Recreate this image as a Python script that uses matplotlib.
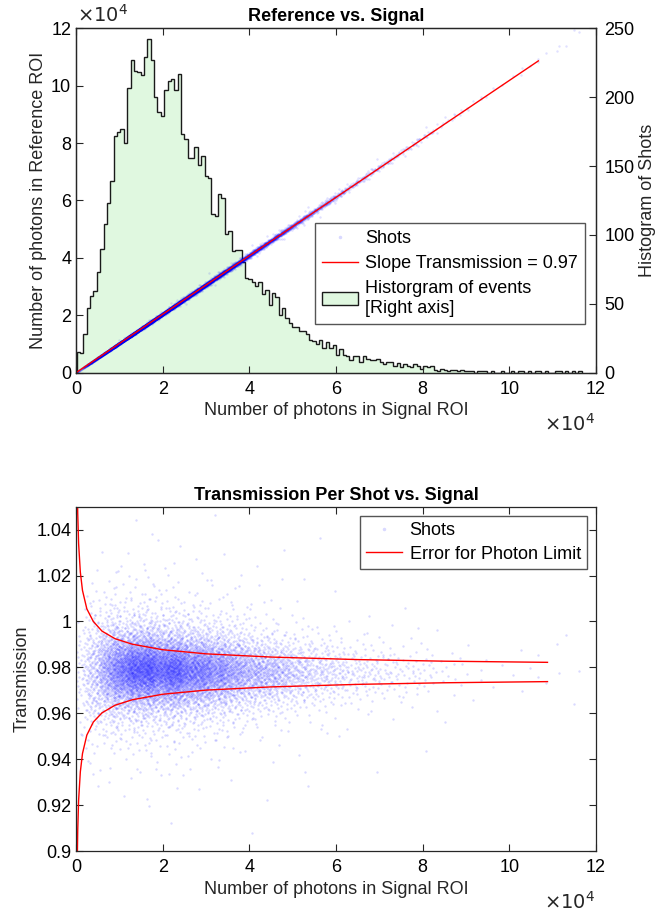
import numpy as np
import matplotlib.pyplot as plt
from matplotlib.lines import Line2D
from matplotlib.patches import Patch

plt.rcParams['font.family'] = ['Liberation Sans', 'DejaVu Sans']
plt.rcParams['font.size'] = 13

# histogram of shots vs signal (counts)
hist_first_edge = 150
hist_bin_width = 777
hist_counts = [15, 14, 28, 47, 56, 59, 73, 90, 108, 123, 139, 172, 175, 177, 167, 207, 227, 219, 218, 216,
               229, 242, 227, 200, 189, 186, 205, 212, 213,
               205, 217, 173, 170, 156, 156, 164, 151, 157, 143, 141, 115, 114, 130, 127, 101, 103, 88, 89, 89,
               80, 69, 68, 66, 63, 66, 57, 60, 49, 58, 55, 42, 47, 40, 36, 33, 33, 30,
               30, 28, 24, 23, 21, 24, 18, 22, 18, 20, 13, 17, 13, 12, 9, 12, 12, 8, 12, 10,
               9, 9, 10, 8, 6, 8, 8, 5, 7, 4, 6, 5, 4, 6, 5, 3, 5, 4, 5,
               2, 1, 3, 2, 1, 2, 2, 1, 2, 1, 1, 1, 0, 1, 1, 1, 0, 1, 0, 0,
               1, 0, 0, 1, 0, 1, 1, 0, 1, 0, 1, 1, 0, 1, 0, 0, 1, 1, 0, 1, 0, 1, 0, 1]

# transmission cloud, per signal range
spread_signal_edges = [0, 5000, 10000, 20000, 40000, 60000]
spread_center = [0.978, 0.979, 0.979, 0.9785, 0.978, 0.978]
spread_core = [0.0080, 0.0062, 0.0052, 0.0050, 0.0045, 0.0040]
spread_halo = 0.012

# fitted slope line (upper panel)
fit_signal = [0, 106700]
fit_reference = [0, 108650]

# photon limit error band (lower panel)
limit_signal = [250, 400, 600, 1000, 1500, 2500, 4000, 6000, 9000, 13000, 20000, 30000, 45000, 65000,
                85000, 108800]
limit_upper = [1.065, 1.047, 1.034, 1.0215, 1.0135, 1.0055, 1.000, 0.9958, 0.9925, 0.9901, 0.9877, 0.9859,
               0.9845, 0.9834, 0.9827, 0.9822]
limit_lower = [0.891, 0.909, 0.922, 0.9345, 0.9425, 0.9505, 0.9562, 0.9602, 0.9635, 0.9659, 0.9683, 0.9701,
               0.9715, 0.9726, 0.9733, 0.9738]

edges = hist_first_edge + hist_bin_width * np.arange(len(hist_counts) + 1)


def halton(k, base):
    f, r = 1.0, 0.0
    while k > 0:
        f /= base
        r += f * (k % base)
        k //= base
    return r


# spread the shots of each bin over the bin (Halton placement)
signal = []
trans = []
k = 0
for i, n in enumerate(hist_counts):
    r = np.searchsorted(spread_signal_edges, edges[i], side='right') - 1
    for j in range(n):
        k += 1
        u = halton(k, 3)
        v = halton(k, 2)
        s = spread_halo if halton(k, 5) > 0.92 else spread_core[r]
        signal.append(edges[i] + u * hist_bin_width)
        trans.append(spread_center[r] + s * np.log(v / (1 - v)))
signal = np.array(signal)
trans = np.array(trans)
reference = signal / trans

axis_col = '#262626'
green = '#e0f8e0'

fig = plt.figure(figsize=(6.58, 9.13), dpi=100)

# ---------- top panel ----------
ax1 = fig.add_axes([0.1155, 0.5918, 0.7903, 0.3772])
ax1r = ax1.twinx()
ax1r.stairs(hist_counts, edges, fill=True, facecolor=green, edgecolor='#1a1a1a', linewidth=1.0)
ax1.set_zorder(ax1r.get_zorder() + 1)
ax1.patch.set_visible(False)

ax1.scatter(signal, reference, s=3, c='blue', alpha=0.12, linewidths=0)
ax1.plot(fit_signal, fit_reference, color='red', lw=1)

ax1.set_xlim(0, 120000)
ax1.set_ylim(0, 120000)
ax1r.set_ylim(0, 250)
ticks = np.arange(0, 120001, 20000)
ax1.set_xticks(ticks)
ax1.set_xticklabels([f'{t / 1e4:g}' for t in ticks])
ax1.set_yticks(ticks)
ax1.set_yticklabels([f'{t / 1e4:g}' for t in ticks])
ax1r.set_yticks(np.arange(0, 251, 50))
ax1.tick_params(direction='in', length=5, top=True, right=False, colors=axis_col, labelcolor='black')
ax1.tick_params(axis='x', pad=6)
ax1r.tick_params(direction='in', length=5, colors=axis_col, labelcolor='black', pad=6)
for a in (ax1, ax1r):
    for sp in a.spines.values():
        sp.set_color(axis_col)
        sp.set_linewidth(0.9)

ax1.set_title('Reference vs. Signal', fontsize=13, fontweight='bold', pad=5)
ax1.set_xlabel('Number of photons in Signal ROI', fontsize=13, color=axis_col, labelpad=3)
ax1.set_ylabel('Number of photons in Reference ROI', fontsize=13, color=axis_col, labelpad=3)
ax1r.set_ylabel('Histogram of Shots', fontsize=13, color=axis_col, labelpad=3)
fig.text(0.117, 0.972, r'$\times10^4$', fontsize=14, color=axis_col, ha='left', va='bottom')
fig.text(0.905, 0.536, r'$\times10^4$', fontsize=14, color=axis_col, ha='right', va='center')

shots_handle = Line2D([], [], ls='none', marker='.', ms=3, color=(0.85, 0.85, 1.0))
h1 = [shots_handle,
      Line2D([], [], color='red', lw=1),
      Patch(facecolor=green, edgecolor='#1a1a1a', linewidth=1)]
leg1 = ax1.legend(h1, ['Shots', 'Slope Transmission = 0.97', 'Historgram of events\n[Right axis]'],
                  loc='upper right', bbox_to_anchor=(0.979, 0.4355), borderaxespad=0, fancybox=False,
                  framealpha=1, edgecolor='#555555', borderpad=0.4, labelspacing=0.45, handlelength=2.0,
                  handletextpad=0.4, fontsize=13)
leg1.get_frame().set_linewidth(1.0)

# ---------- bottom panel ----------
ax2 = fig.add_axes([0.1155, 0.0679, 0.7903, 0.3771])
ax2.scatter(signal, trans, s=3, c='blue', alpha=0.15, linewidths=0)
ax2.plot(limit_signal, limit_upper, color='red', lw=1)
ax2.plot(limit_signal, limit_lower, color='red', lw=1)

ax2.set_xlim(0, 120000)
ax2.set_ylim(0.9, 1.05)
ax2.set_xticks(ticks)
ax2.set_xticklabels([f'{t / 1e4:g}' for t in ticks])
yt = [0.9, 0.92, 0.94, 0.96, 0.98, 1.0, 1.02, 1.04]
ax2.set_yticks(yt)
ax2.set_yticklabels([f'{t:g}' for t in yt])
ax2.tick_params(direction='in', length=5, top=True, right=True, colors=axis_col, labelcolor='black')
ax2.tick_params(axis='x', pad=6)
for sp in ax2.spines.values():
    sp.set_color(axis_col)
    sp.set_linewidth(0.9)

ax2.set_title('Transmission Per Shot vs. Signal', fontsize=13, fontweight='bold', pad=5)
ax2.set_xlabel('Number of photons in Signal ROI', fontsize=13, color=axis_col, labelpad=3)
ax2.set_ylabel('Transmission', fontsize=13, color=axis_col, labelpad=4)
fig.text(0.905, 0.012, r'$\times10^4$', fontsize=14, color=axis_col, ha='right', va='center')

h2 = [shots_handle, Line2D([], [], color='red', lw=1)]
leg2 = ax2.legend(h2, ['Shots', 'Error for Photon Limit'], loc='upper right',
                  bbox_to_anchor=(0.983, 0.973), borderaxespad=0, fancybox=False, framealpha=1,
                  edgecolor='#555555', borderpad=0.35, labelspacing=0.35, handlelength=2.0,
                  handletextpad=0.4, fontsize=13)
leg2.get_frame().set_linewidth(1.0)

plt.savefig('out.png', dpi=100)
